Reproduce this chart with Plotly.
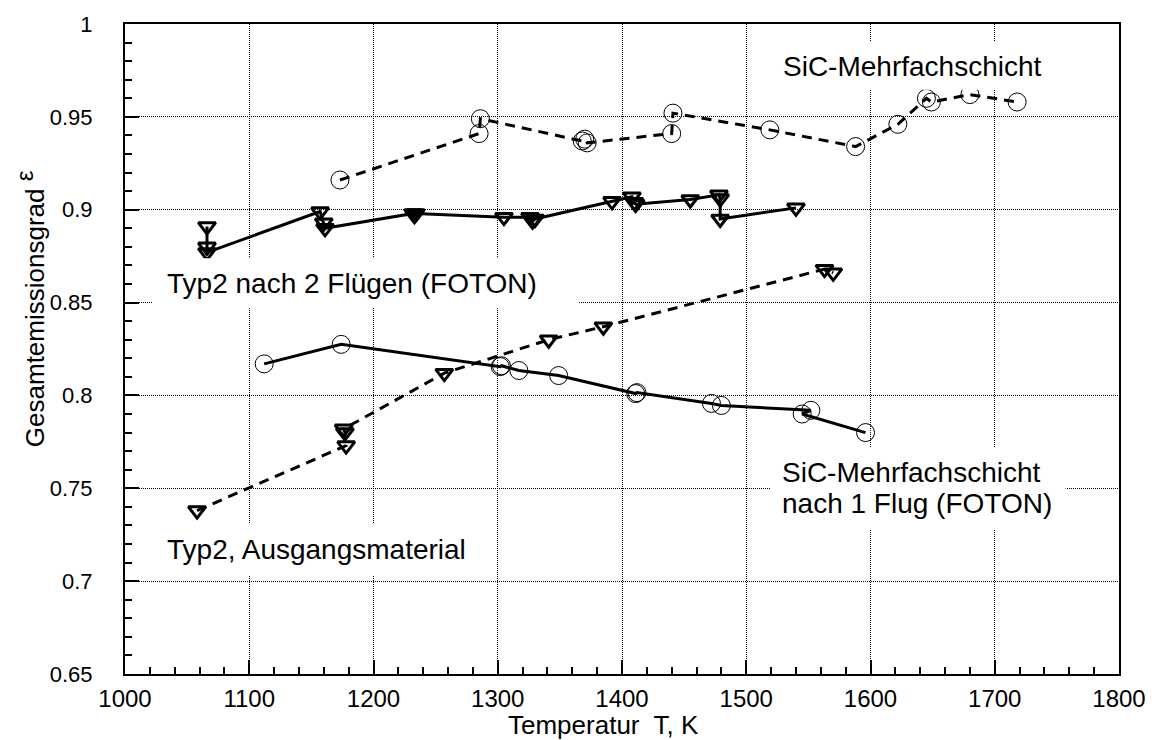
import plotly.graph_objects as go

# SiC-Mehrfachschicht (dashed, circles)
sic_T = [1173, 1285, 1286, 1368, 1370, 1372, 1440, 1441, 1519, 1588, 1622, 1645, 1649, 1680, 1718]
sic_e = [0.916, 0.941, 0.949, 0.937, 0.938, 0.936, 0.941, 0.952, 0.943, 0.934, 0.946, 0.960, 0.958, 0.962, 0.958]

# Typ2 nach 2 Flügen (FOTON) (solid, triangles)
t2f_T = [1066, 1066, 1066, 1157, 1160, 1161, 1232, 1233, 1234, 1305, 1326, 1328, 1330, 1392, 1408, 1410, 1411, 1455, 1478, 1479, 1479, 1540]
t2f_e = [0.891, 0.880, 0.877, 0.899, 0.893, 0.890, 0.898, 0.897, 0.898, 0.896, 0.896, 0.894, 0.895, 0.9045, 0.907, 0.904, 0.903, 0.9055, 0.908, 0.906, 0.895, 0.901]

# SiC-Mehrfachschicht nach 1 Flug (FOTON) (solid, circles)
sf_T = [1112, 1174, 1302, 1303, 1317, 1349, 1411, 1412, 1472, 1480, 1552, 1545, 1596]
sf_e = [0.817, 0.8275, 0.8155, 0.816, 0.8134, 0.8107, 0.801, 0.8015, 0.7957, 0.7946, 0.792, 0.790, 0.780]

# Typ2, Ausgangsmaterial (dashed, triangles)
t2a_T = [1058, 1178, 1177, 1176, 1257, 1341, 1385, 1563, 1570]
t2a_e = [0.738, 0.773, 0.780, 0.782, 0.812, 0.830, 0.837, 0.868, 0.866]

FONT = "Liberation Sans, Arial, sans-serif"
W, H = 1158, 740
L, R, T, B = 125, 28, 22, 66
PW, PH = W - L - R, H - T - B

def px(x):  # pixel -> paper x
    return (x - L) / PW

def py(y):  # pixel -> paper y
    return (H - B - y) / PH

fig = go.Figure()
circ = dict(symbol="circle-open", size=18, color="black", line=dict(width=1, color="black"))
tri = dict(symbol="triangle-down-open", size=15, color="black", line=dict(width=3, color="black"))
fig.add_trace(go.Scatter(x=sic_T, y=sic_e, mode="lines+markers",
                         line=dict(color="black", width=3, dash="10px,7px"), marker=circ,
                         name="SiC-Mehrfachschicht"))
fig.add_trace(go.Scatter(x=t2f_T, y=t2f_e, mode="lines+markers",
                         line=dict(color="black", width=3), marker=tri,
                         name="Typ2 nach 2 Flügen"))
fig.add_trace(go.Scatter(x=sf_T, y=sf_e, mode="lines+markers",
                         line=dict(color="black", width=3), marker=circ,
                         name="SiC nach 1 Flug"))
fig.add_trace(go.Scatter(x=t2a_T, y=t2a_e, mode="lines+markers",
                         line=dict(color="black", width=3, dash="10px,7px"), marker=tri,
                         name="Typ2 Ausgangsmaterial"))

# white label boxes (pixels: x0, x1, y0(top), y1(bottom))
boxes = [(783, 1066, 40, 88), (153, 583, 257, 307), (778, 1076, 447, 529), (153, 485, 523, 575)]
for x0, x1, y0, y1 in boxes:
    fig.add_shape(type="rect", xref="paper", yref="paper", x0=px(x0), x1=px(x1), y0=py(y1), y1=py(y0),
                  fillcolor="white", line=dict(width=0), layer="above")

ann_font = dict(family=FONT, size=28, color="black")
def ann(text, x, y, xa):
    fig.add_annotation(text=text, x=px(x), y=py(y), xref="paper", yref="paper", xanchor=xa, yanchor="middle",
                       showarrow=False, align="left", font=ann_font, borderpad=0)

ann("SiC-Mehrfachschicht", 1053, 65, "right")
ann("Typ2 nach 2 Flügen (FOTON)", 166, 282, "left")
ann("SiC-Mehrfachschicht", 788, 472, "left")
ann("nach 1 Flug (FOTON)", 788, 503, "left")
ann("Typ2, Ausgangsmaterial", 166, 549, "left")

fig.add_annotation(text="Temperatur\u00a0 T, K", x=px(511), y=py(725), xref="paper", yref="paper",
                   xanchor="left", yanchor="middle", showarrow=False, borderpad=0,
                   font=dict(family=FONT, size=26, color="black"))
fig.add_annotation(text="Gesamtemissionsgrad <sup><span style='font-size:24px'>ε</span></sup>",
                   x=px(29), y=py(308), xref="paper", yref="paper",
                   xanchor="center", yanchor="middle", showarrow=False, textangle=-90,
                   font=dict(family=FONT, size=26, color="black"))

fig.update_layout(
    width=W, height=H, margin=dict(l=L, r=R, t=T, b=B),
    plot_bgcolor="white", paper_bgcolor="white", showlegend=False,
    font=dict(family=FONT, color="black"),
)
fig.update_xaxes(range=[1000, 1800], dtick=100, showgrid=True, gridcolor="black", griddash="1px,1px", gridwidth=1,
                 showline=True, linecolor="black", linewidth=2, mirror=True, zeroline=False,
                 ticks="inside", ticklen=14, tickwidth=2, tickcolor="black",
                 minor=dict(dtick=20, ticks="inside", ticklen=7, tickwidth=1.5, tickcolor="black", showgrid=False),
                 tickfont=dict(family=FONT, size=24, color="black"), ticklabelstandoff=2)
fig.update_yaxes(range=[0.65, 1.0], dtick=0.05, showgrid=True, gridcolor="black", griddash="1px,1px", gridwidth=1,
                 showline=True, linecolor="black", linewidth=2, mirror=True, zeroline=False,
                 ticks="inside", ticklen=14, tickwidth=2, tickcolor="black",
                 minor=dict(dtick=0.01, ticks="inside", ticklen=7, tickwidth=1.5, tickcolor="black", showgrid=False),
                 tickfont=dict(family=FONT, size=22, color="black"), ticklabelstandoff=26)

fig.write_html("out.html")
